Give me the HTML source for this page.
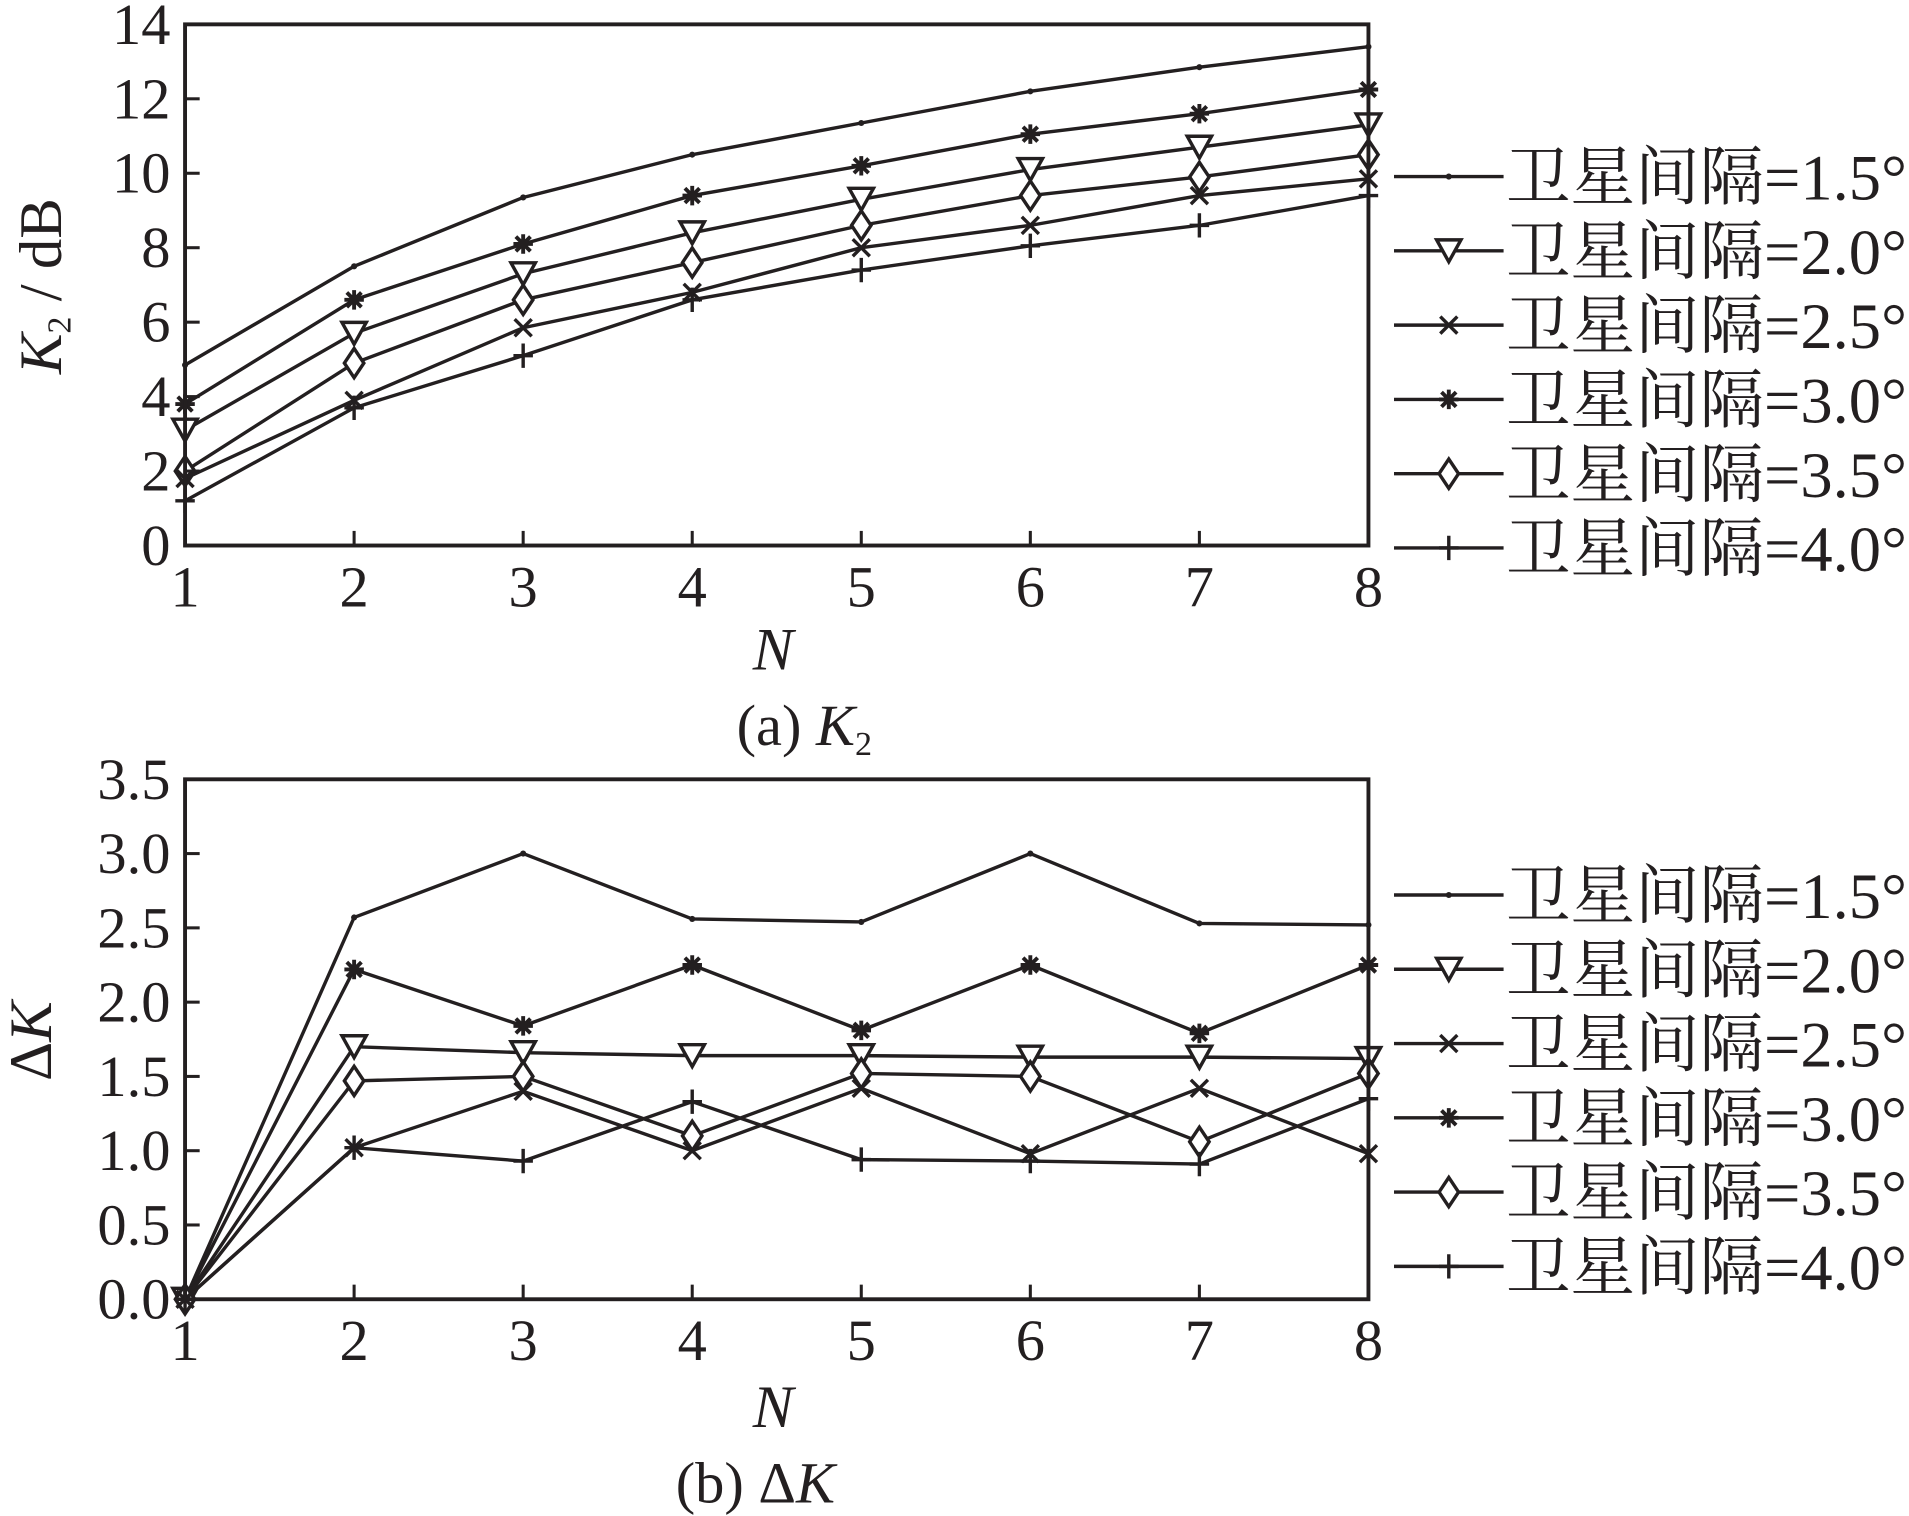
<!DOCTYPE html>
<html><head><meta charset="utf-8"><style>html,body{margin:0;padding:0;background:#fff}svg{display:block}</style></head>
<body>
<svg id="s" width="1909" height="1516" viewBox="0 0 1568 1245" preserveAspectRatio="none" xmlns="http://www.w3.org/2000/svg" font-family="'Liberation Serif','Noto Serif CJK SC',serif" fill="#231f20"></svg>
<script>
const s=document.getElementById('s');let h='';
const X=n=>152+(n-1)*(1124-152)/7;
function mk(t,x,y){
 if(t=='dot')return `<circle cx="${x}" cy="${y}" r="2.5" fill="#231f20"/>`;
 if(t=='tri')return `<path d="M${x-10},${y-9}L${x+10},${y-9}L${x},${y+9}Z" fill="#fff" stroke="#231f20" stroke-width="2.8"/>`;
 if(t=='x')return `<path d="M${x-7},${y-7}L${x+7},${y+7}M${x-7},${y+7}L${x+7},${y-7}" stroke="#231f20" stroke-width="2.8"/>`;
 if(t=='star')return `<path d="M${x-8},${y}L${x+8},${y}M${x},${y-8}L${x},${y+8}M${x-6},${y-6}L${x+6},${y+6}M${x-6},${y+6}L${x+6},${y-6}" stroke="#231f20" stroke-width="3.2"/>`;
 if(t=='dia')return `<path d="M${x},${y-12}L${x+8},${y}L${x},${y+12}L${x-8},${y}Z" fill="#fff" stroke="#231f20" stroke-width="2.8"/>`;
 if(t=='plus')return `<path d="M${x-8},${y}L${x+8},${y}M${x},${y-10}L${x},${y+10}" stroke="#231f20" stroke-width="2.8"/>`;
}
function panel(top,bot,max,step,dec,series,legY,xlabY,cap){
 const Y=v=>bot-(v/max)*(bot-top);
 series.forEach(([t,d])=>{h+=`<polyline points="${d.map((v,i)=>X(i+1)+','+Y(v)).join(' ')}" fill="none" stroke="#231f20" stroke-width="2.8"/>`;d.forEach((v,i)=>h+=mk(t,X(i+1),Y(v)));});
 h+=`<rect x="152" y="${top}" width="972" height="${bot-top}" fill="none" stroke="#231f20" stroke-width="3.2"/>`;
 for(let v=0;v<=max+1e-9;v+=step){const y=Y(v);h+=`<line x1="152" y1="${y}" x2="164" y2="${y}" stroke="#231f20" stroke-width="2.5"/><text x="140" y="${y+16}" font-size="48" text-anchor="end">${v.toFixed(dec)}</text>`;}
 for(let n=1;n<=8;n++){h+=`<line x1="${X(n)}" y1="${bot}" x2="${X(n)}" y2="${bot-12}" stroke="#231f20" stroke-width="2.5"/><text x="${X(n)}" y="${bot+50}" font-size="48" text-anchor="middle">${n}</text>`;}
 h+=`<text x="635" y="${xlabY}" font-size="50" font-style="italic" text-anchor="middle">N</text>`;
 h+=cap;
 const labs=['1.5','2.0','2.5','3.0','3.5','4.0'],ts=['dot','tri','x','star','dia','plus'];
 labs.forEach((l,i)=>{const y=legY+i*61;h+=`<line x1="1145" y1="${y}" x2="1235" y2="${y}" stroke="#231f20" stroke-width="2.8"/>`+mk(ts[i],1190,y)+`<text x="1237" y="${y+19}" font-size="53">卫星间隔=${l}°</text>`;});
}
panel(20,448,14,2,0,[
['dot',[4.85,7.5,9.35,10.5,11.35,12.2,12.85,13.4]],
['star',[3.8,6.6,8.1,9.4,10.2,11.05,11.6,12.25]],
['tri',[3.1,5.7,7.3,8.4,9.3,10.1,10.7,11.3]],
['dia',[2.0,4.9,6.6,7.6,8.6,9.4,9.9,10.5]],
['x',[1.8,3.9,5.85,6.8,8.0,8.6,9.4,9.85]],
['plus',[1.2,3.7,5.1,6.6,7.4,8.05,8.6,9.4]]],145,550,
`<text x="605" y="612" font-size="48">(a) <tspan font-style="italic">K</tspan><tspan font-size="28" dy="8">2</tspan></text>
<text transform="translate(50,235) rotate(-90)" font-size="50" text-anchor="middle"><tspan font-style="italic">K</tspan><tspan font-size="28" dy="8">2</tspan><tspan dy="-8"> / dB</tspan></text>`);
panel(640,1067,3.5,0.5,1,[
['dot',[0,2.57,3.0,2.56,2.54,3.0,2.53,2.52]],
['star',[0,2.22,1.84,2.25,1.81,2.25,1.79,2.25]],
['tri',[0,1.70,1.66,1.64,1.64,1.63,1.63,1.62]],
['dia',[0,1.47,1.50,1.10,1.52,1.50,1.06,1.52]],
['x',[0,1.02,1.40,1.00,1.42,0.98,1.42,0.98]],
['plus',[0,1.02,0.93,1.33,0.94,0.93,0.91,1.35]]],735,1172,
`<text x="555" y="1234" font-size="48">(b) Δ<tspan font-style="italic">K</tspan></text>
<text transform="translate(42,855) rotate(-90)" font-size="50" text-anchor="middle">Δ<tspan font-style="italic">K</tspan></text>`);
s.innerHTML=h;
</script>
</body></html>
